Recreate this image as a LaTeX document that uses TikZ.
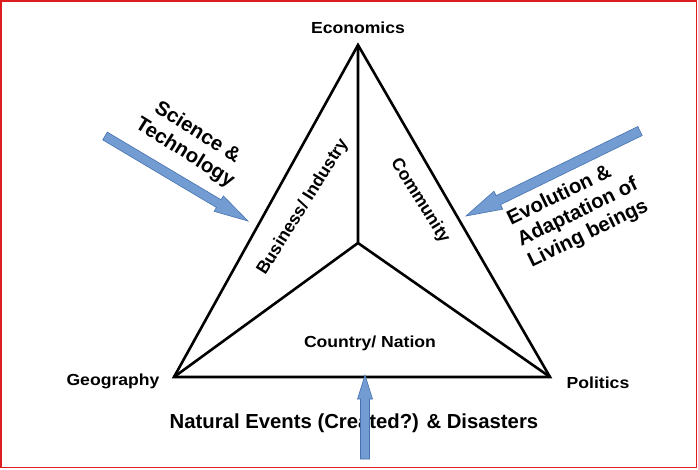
\documentclass[tikz,border=0pt]{standalone}
\usepackage{fontspec}
\setmainfont{Liberation Sans}
\usetikzlibrary{calc}
\definecolor{arrfill}{RGB}{114,156,210}
\definecolor{arredge}{RGB}{70,115,175}
\definecolor{framered}{RGB}{220,30,30}
\tikzset{
  tri/.style={line width=2.6pt},
  lab/.style={font=\bfseries\fontsize{16}{18}\selectfont, inner sep=0pt},
  mid/.style={font=\bfseries\fontsize{17.5}{19}\selectfont, inner sep=0pt},
  big/.style={font=\bfseries\fontsize{20.3}{23.5}\selectfont, inner sep=0pt},
  barrow/.style={fill=arrfill, draw=arredge, line width=0.6pt, line join=miter},
}
% #1 tail, #2 tip, #3 shaft half width, #4 head half width, #5 head length
\newcommand\myblockarrow[5]{%
  \path ($(#2)!#5!(#1)$) coordinate (hb);
  \filldraw[barrow] ($(#1)!#3!90:(#2)$) -- ($(hb)!#3!-90:(#1)$) -- ($(hb)!#4!-90:(#1)$)
    -- (#2) -- ($(hb)!#4!90:(#1)$) -- ($(hb)!#3!90:(#1)$) -- ($(#1)!#3!-90:(#2)$) -- cycle;}
\begin{document}
\begin{tikzpicture}[x=1pt,y=-1pt]
\useasboundingbox (0,0) rectangle (698,469);
\fill[white] (0,0) rectangle (698,469);
\draw[framered, line width=1.5pt] (0.75,0.75) rectangle (696.5,467.7);
% triangle
\coordinate (E) at (358,45);
\coordinate (G) at (174,377);
\coordinate (P) at (550,377);
\coordinate (C) at (358,243);
\draw[tri] (E) -- (G) -- (P) -- cycle;
\draw[tri] (C) -- (E) (C) -- (G) (C) -- (P);
% vertex labels
\node[lab] (econ) at (358,28) {\scalebox{1.1}[1]{Economics}};
\node[lab] (geo) at (113,381) {\scalebox{1.1}[1]{Geography}};
\node[lab] (pol) at (598,383) {\scalebox{1.1}[1]{Politics}};
% region labels
\node[lab] (nation) at (370,343) {\scalebox{1.1}[1]{Country/ Nation}};
\node[mid, rotate=58] (bus) at (303,207) {Business/\ Industry};
\node[mid, rotate=-58] (com) at (420,201) {Community};
% influences
\node[big, rotate=-32, align=center] (sci) at (191,143) {Science \&\\Technology};
\node[big, rotate=26, align=left] (evo) at (578,213) {Evolution \&\\Adaptation of\\Living beings};
\node[big] (nev) at (354,423) {Natural Events (Created?) \& Disasters};
% arrows
\coordinate (sciT) at (105,136);
\coordinate (sciH) at (248,221);
\myblockarrow{sciT}{sciH}{4.5pt}{9pt}{34pt}
\coordinate (evoT) at (640,131);
\coordinate (evoH) at (466,216);
\myblockarrow{evoT}{evoH}{5pt}{10pt}{36pt}
\coordinate (nevT) at (365,459);
\coordinate (nevH) at (365,375);
\myblockarrow{nevT}{nevH}{4.5pt}{7.5pt}{24pt}
\end{tikzpicture}
\end{document}
